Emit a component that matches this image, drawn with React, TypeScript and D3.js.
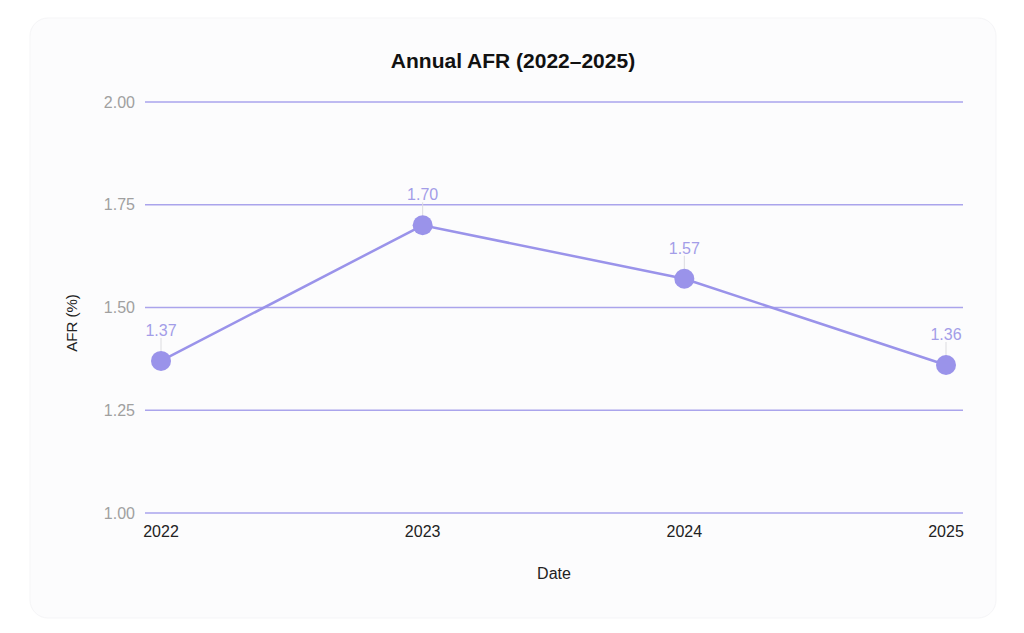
import * as d3 from "d3";

const years = ["2022", "2023", "2024", "2025"];
const afr = [1.37, 1.7, 1.57, 1.36];
const yTicks = [1.0, 1.25, 1.5, 1.75, 2.0];

const width = 1024;
const height = 633;
const marginLeft = 145;
const marginRight = 61;
const marginTop = 102;
const marginBottom = 120;

const purple = "#9a93ea";
const font = "'Liberation Sans', Arial, Helvetica, sans-serif";

export default function App() {
  // point scale for the years, with a small inset at each end
  const x = d3
    .scalePoint<string>()
    .domain(years)
    .range([marginLeft + 16, width - marginRight - 17]);

  const y = d3
    .scaleLinear()
    .domain([1, 2])
    .range([height - marginBottom, marginTop]);

  const line = d3
    .line<number>()
    .x((_, i) => x(years[i]) ?? 0)
    .y((d) => y(d));

  return (
    <svg
      width={width}
      height={height}
      style={{ position: "absolute", left: 0, top: 0, fontFamily: font }}
    >
      <rect width={width} height={height} fill="#ffffff" />
      <rect x={30} y={18} width={966} height={600} rx={18} fill="#fcfcfd" stroke="#f5f5f7" />

      <text x={513} y={68} textAnchor="middle" fontSize={21} fontWeight="bold" fill="#111">
        Annual AFR (2022–2025)
      </text>

      {/* gridlines and y ticks */}
      {yTicks.map((t) => (
        <g key={t}>
          <line
            x1={marginLeft}
            x2={width - marginRight}
            y1={y(t)}
            y2={y(t)}
            stroke="#aaa4ec"
            strokeWidth={1.5}
          />
          <text x={135} y={y(t)} dy="0.35em" textAnchor="end" fontSize={16} fill="#a0a0a0">
            {t.toFixed(2)}
          </text>
        </g>
      ))}

      {/* x ticks */}
      {years.map((yr) => (
        <text key={yr} x={x(yr)} y={537} textAnchor="middle" fontSize={16} fill="#222">
          {yr}
        </text>
      ))}

      <text x={554} y={579} textAnchor="middle" fontSize={16} fill="#222">
        Date
      </text>
      <text
        transform={`translate(77,${323}) rotate(-90)`}
        textAnchor="middle"
        fontSize={15}
        fill="#222"
      >
        AFR (%)
      </text>

      {/* leader lines from labels to points */}
      {afr.map((v, i) => (
        <line
          key={i}
          x1={x(years[i])}
          x2={x(years[i])}
          y1={y(v) - 23}
          y2={y(v) - 8}
          stroke="#dcdce0"
          strokeWidth={1}
        />
      ))}

      <path d={line(afr) ?? undefined} fill="none" stroke={purple} strokeWidth={2.5} />

      {afr.map((v, i) => (
        <g key={i}>
          <circle cx={x(years[i])} cy={y(v)} r={10} fill={purple} />
          <text
            x={x(years[i])}
            y={y(v) - 25}
            textAnchor="middle"
            fontSize={16}
            fill="#a39de8"
          >
            {v.toFixed(2)}
          </text>
        </g>
      ))}
    </svg>
  );
}
